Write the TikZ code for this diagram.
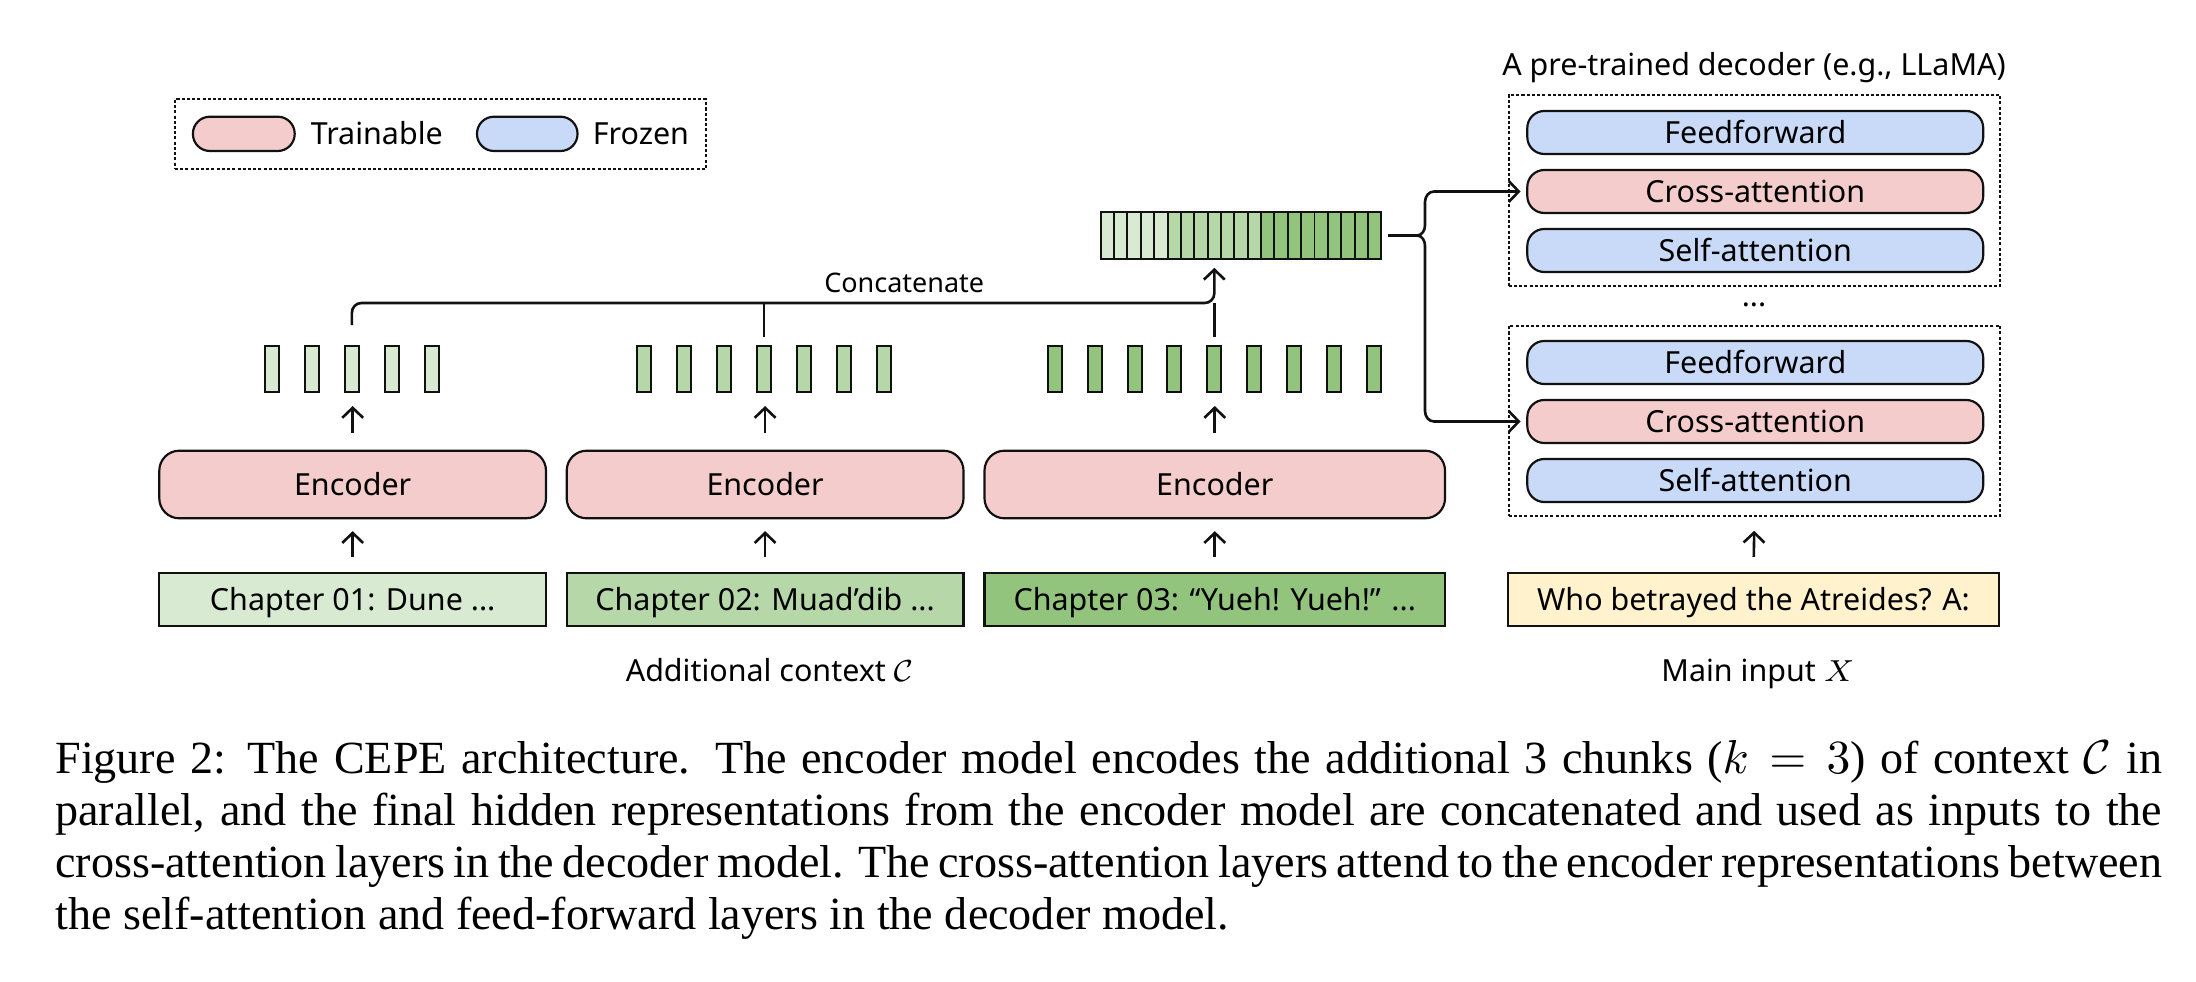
\documentclass[tikz,border=0pt]{standalone}
\usepackage{fontspec}
\setmainfont{Liberation Serif}
\newfontfamily\diafont{Noto Sans}
\usetikzlibrary{arrows.meta,calc}

\definecolor{train}{HTML}{F4CCCC}
\definecolor{frozen}{HTML}{C9DAF8}
\definecolor{gA}{HTML}{D9EAD3}
\definecolor{gB}{HTML}{B6D7A8}
\definecolor{gC}{HTML}{93C47D}
\definecolor{qy}{HTML}{FFF2CC}
\definecolor{ink}{HTML}{111111}

\begin{document}
\begin{tikzpicture}[x=0.23pt,y=-0.23pt,
  font=\diafont\fontsize{7pt}{8.4pt}\selectfont,
  wire/.style={draw=ink,line width=0.6pt},
  conn/.style={wire,-{Straight Barb[length=2.3pt,width=4.8pt]}},
  dotbox/.style={draw=ink,line width=0.4pt,dash pattern=on 0.7pt off 0.5pt,inner sep=0pt},
  lbl/.style={inner sep=0pt,text height=5pt,text depth=0pt},
  pill/.style={lbl,draw=ink,line width=0.5pt,rounded corners=3.9pt},
  encbox/.style={lbl,draw=ink,line width=0.5pt,rounded corners=4.6pt,fill=train,minimum height=15.55pt},
  chbox/.style={lbl,draw=ink,line width=0.5pt,minimum height=12.26pt},
  decpill/.style={pill,minimum width=104.86pt,minimum height=9.89pt},
  tok/.style={draw=ink,line width=0.45pt,minimum width=3.22pt,minimum height=10.58pt,inner sep=0pt},
  cell/.style={draw=ink,line width=0.45pt,minimum width=3.07pt,minimum height=10.67pt,inner sep=0pt}
]
\useasboundingbox (0,0) rectangle (2196,982);

% legend
\node[dotbox,minimum width=122.08pt,minimum height=16.1pt] (legend) at (440.3,134.3) {};
\node[pill,fill=train,minimum width=23.41pt,minimum height=7.89pt] (ltrain) at (243.8,133.85) {};
\node[lbl,anchor=west] (ltraint) at (310,133.85) {Trainable};
\node[pill,fill=frozen,minimum width=23.12pt,minimum height=7.89pt] (lfroz) at (527.25,133.85) {};
\node[lbl,anchor=west] (lfrozt) at (592,133.85) {Frozen};

% decoder
\node[anchor=base] (title) at (1754,76) {A pre-trained decoder (e.g., LLaMA)};
\node[dotbox,minimum width=113.05pt,minimum height=43.93pt] (dec1) at (1754.45,190.5) {};
\node[decpill,fill=frozen] (ff1) at (1755.25,132.5) {Feedforward};
\node[decpill,fill=train] (ca1) at (1755.25,191.5) {Cross-attention};
\node[decpill,fill=frozen] (sa1) at (1755.25,250.5) {Self-attention};
\node[anchor=base] (dots) at (1754,307) {...};
\node[dotbox,minimum width=113.05pt,minimum height=43.77pt] (dec2) at (1754.45,420.85) {};
\node[decpill,fill=frozen] (ff2) at (1755.25,362.5) {Feedforward};
\node[decpill,fill=train] (ca2) at (1755.25,421.5) {Cross-attention};
\node[decpill,fill=frozen] (sa2) at (1755.25,480.5) {Self-attention};
\node[chbox,fill=qy,minimum width=112.93pt] (q) at (1753.5,599.35) {Who betrayed the Atreides? A:};
\node[anchor=base] (mainin) at (1758,681.7) {Main input $X$};
\draw[conn,shorten <=3.4pt,shorten >=3.2pt] (q.north) -- (dec2.south);

% encoders and chapters
\node[encbox,minimum width=88.94pt] (e1) at (352.65,484.5) {Encoder};
\node[encbox,minimum width=91.26pt] (e2) at (765.1,484.5) {Encoder};
\node[encbox,minimum width=105.92pt] (e3) at (1214.75,484.5) {Encoder};
\node[chbox,fill=gA,minimum width=88.94pt] (c1) at (352.65,599.35) {Chapter 01: Dune ...};
\node[chbox,fill=gB,minimum width=91.26pt] (c2) at (765.1,599.35) {Chapter 02: Muad’dib ...};
\node[chbox,fill=gC,minimum width=105.92pt] (c3) at (1214.75,599.35) {Chapter 03: “Yueh! Yueh!” ...};
\node[anchor=base] (addctx) at (770,681.7) {Additional context $\mathcal{C}$};

\foreach \i in {1,2,3}{
  \draw[conn,shorten <=3.4pt,shorten >=2.7pt] (c\i.north) -- (e\i.south);
}

% token bars
\foreach \i in {1,...,5}{\node[tok,fill=gA] (a\i) at ({271.7+(\i-1)*40.1},369) {};}
\foreach \i in {1,...,7}{\node[tok,fill=gB] (b\i) at ({644+(\i-1)*40},369) {};}
\foreach \i in {1,...,9}{\node[tok,fill=gC] (t\i) at ({1054.7+(\i-1)*39.9},369) {};}

\draw[conn,shorten <=3.8pt,shorten >=3pt] (e1.north) -- (e1.north |- a3.south);
\draw[conn,shorten <=3.8pt,shorten >=3pt] (e2.north) -- (e2.north |- b4.south);
\draw[conn,shorten <=3.8pt,shorten >=3pt] (e3.north) -- (e3.north |- t5.south);

% concatenated bar
\foreach \i in {1,...,21}{
  \pgfmathsetmacro{\cx}{1100.7+13.36*(\i-0.5)}
  \ifnum\i<6 \def\cc{gA}\else\ifnum\i<13 \def\cc{gB}\else\def\cc{gC}\fi\fi
  \node[cell,fill=\cc] (k\i) at (\cx,235.5) {};
}
\coordinate (concatS) at (1240.85,258.7);
\coordinate (concatE) at (1381,235.5);

% concatenate connector
\coordinate (hy) at (0,303);
\coordinate (cl) at ($(a3.north)+(0,-20)$);
\coordinate (cm) at ($(b4.north)+(0,-8)$);
\coordinate (cr) at ($(t5.north)+(0,-8)$);
\draw[conn,rounded corners=2.2pt,shorten >=2.1pt] (cl) -- (cl |- hy) -- (cr |- hy) -- (cr |- concatS);
\draw[wire] (cm) -- (cm |- hy);
\draw[wire] (cr) -- (cr |- hy);
\node[anchor=base west,inner sep=0pt,font=\diafont\fontsize{6.2pt}{7.4pt}\selectfont] (cat) at (823.5,292.7) {Concatenate};

% brace to cross-attention layers
\coordinate (bs) at ($(concatE)+(7,0)$);
\coordinate (bt) at (1417,235.5);
\draw[wire] (bs) -- (bt);
\draw[conn,shorten >=1.3pt] (bt) to[out=0,in=-90] (1425,225) -- (1425,202) to[out=90,in=180] (1434,191.5) -- (ca1.west);
\draw[conn,shorten >=1.3pt] (bt) to[out=0,in=90] (1425,246) -- (1425,411) to[out=-90,in=180] (1434,421.5) -- (ca2.west);

% caption
\node[anchor=base west,inner sep=0pt,font=\rmfamily\fontsize{10.6pt}{12.03pt}\selectfont] (caption) at (54.6,773)
{\parbox[t]{484.5pt}{Figure 2: The CEPE architecture. The encoder model encodes the additional 3 chunks ($k=3$) of context $\mathcal{C}$ in\linebreak
parallel, and the final hidden representations from the encoder model are concatenated and used as inputs to the\linebreak
cross-attention layers in the decoder model. The cross-attention layers attend to the encoder representations between\linebreak
the self-attention and feed-forward layers in the decoder model.}};
\end{tikzpicture}
\end{document}
